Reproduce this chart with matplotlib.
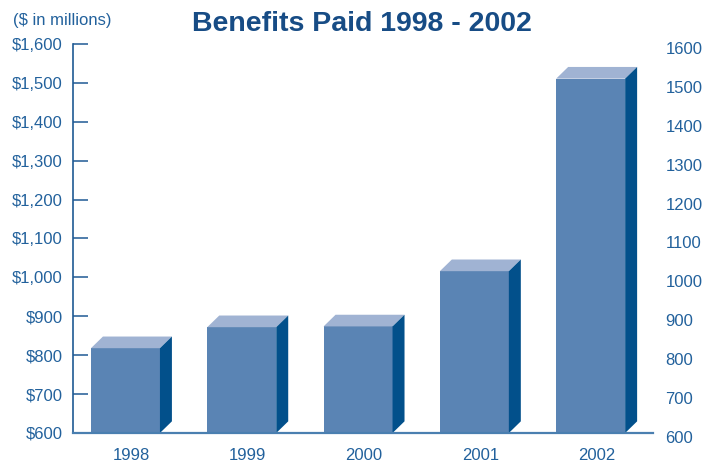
import matplotlib
matplotlib.use("Agg")
import matplotlib.pyplot as plt
from matplotlib.patches import Polygon

plt.rcParams["font.family"] = ["Liberation Sans", "DejaVu Sans"]

# ── 데이터 ─────────────────────────────
years = ["1998", "1999", "2000", "2001", "2002"]
benefits = [818, 872, 874, 1016, 1511]   # $ millions
left_ticks = list(range(600, 1700, 100))
left_labels = [f"${v:,}" for v in left_ticks]
right_ticks = list(range(600, 1700, 100))

# ── 색상 ───────────────────────────────
c_front = "#5a84b4"
c_top = "#a0b3d3"
c_side = "#02508b"
c_text = "#22619c"
c_title = "#174c85"

W, H = 709, 463
fig = plt.figure(figsize=(W / 100, H / 100), dpi=100)

x_left, x_right = 73, 653
y_bot, y_top = 433, 44
ax = fig.add_axes([x_left / W, (H - y_bot) / H, (x_right - x_left) / W, (y_bot - y_top) / H])

width = 0.593
dx, dy = 0.103, 30
base = 600

xs = list(range(len(years)))
ax.bar(xs, [v - base for v in benefits], bottom=base, width=width,
       color=c_front, zorder=2, linewidth=0)
for x, v in zip(xs, benefits):
    x0, x1 = x - width / 2, x + width / 2
    ax.add_patch(Polygon([(x0, v), (x1, v), (x1 + dx, v + dy), (x0 + dx, v + dy)],
                         closed=True, facecolor=c_top, edgecolor="none", zorder=2))
    ax.add_patch(Polygon([(x1, base), (x1, v), (x1 + dx, v + dy), (x1 + dx, base + dy)],
                         closed=True, facecolor=c_side, edgecolor="none", zorder=2))

ax.set_xlim(-0.451, 4.536)
ax.set_ylim(600, 1600)

ax.set_yticks(left_ticks)
ax.set_yticklabels(left_labels)
ax.tick_params(axis="y", direction="in", length=10.8, width=1.1, color="#1f5a94",
               labelsize=12, labelcolor=c_text, pad=7.5)
ax.set_xticks([x + dx / 2 for x in xs])
ax.set_xticklabels(years)
ax.tick_params(axis="x", length=0, labelsize=12, labelcolor=c_text, pad=11)

for s in ["top", "right"]:
    ax.spines[s].set_visible(False)
ax.spines["left"].set_color("#1f5a94")
ax.spines["left"].set_linewidth(1.2)
ax.spines["bottom"].set_color("#4a7fb0")
ax.spines["bottom"].set_linewidth(1.6)

# 오른쪽 축 (3D 깊이만큼 아래로 이동)
ax2 = fig.add_axes([x_left / W, (H - 437) / H, (x_right - x_left) / W, (437 - 48) / H])
ax2.set_ylim(600, 1600)
ax2.patch.set_visible(False)
for s in ax2.spines.values():
    s.set_visible(False)
ax2.set_xticks([])
ax2.yaxis.tick_right()
ax2.set_yticks(right_ticks)
ax2.set_yticklabels([str(v) for v in right_ticks])
ax2.tick_params(axis="y", length=0, labelsize=12, labelcolor=c_text, pad=9)

fig.text(13 / W, 1 - 20 / H, "($ in millions)", fontsize=12, color=c_text,
         ha="left", va="center")
fig.text(362 / W, 1 - 31 / H, "Benefits Paid 1998 - 2002", fontsize=20.5,
         fontweight="bold", color=c_title, ha="center", va="baseline")

fig.savefig("out.png", dpi=100)
